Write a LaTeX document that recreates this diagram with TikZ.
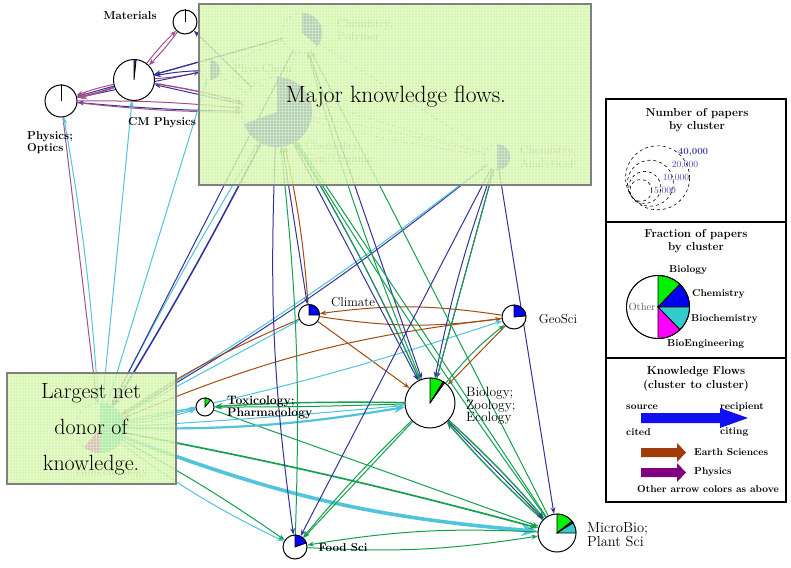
\documentclass[tikz,border=0pt]{standalone}
\usepackage{fontspec}
\usetikzlibrary{arrows.meta,patterns}

\definecolor{navyE}{RGB}{51,51,153}
\definecolor{cyanE}{RGB}{80,196,220}
\definecolor{greenE}{RGB}{20,160,80}
\definecolor{brownE}{RGB}{165,75,15}
\definecolor{purpE}{RGB}{165,80,140}
\definecolor{boxgreen}{RGB}{206,244,156}
\definecolor{pieG}{RGB}{0,240,0}
\definecolor{pieB}{RGB}{0,0,245}
\definecolor{pieC}{RGB}{51,204,204}
\definecolor{pieM}{RGB}{255,0,255}
\definecolor{numblue}{RGB}{70,70,170}
\definecolor{legBlue}{RGB}{16,16,240}
\definecolor{legBrown}{RGB}{160,60,10}
\definecolor{legPurple}{RGB}{128,0,128}

\pgfdeclarelayer{hid}
\pgfdeclarelayer{edg}
\pgfdeclarelayer{box}
\pgfsetlayers{hid,edg,box,main}

% wedge of a pie: node, radius, start angle, end angle, colour
\newcommand\pieslice[5]{%
  \filldraw[fill=#5,draw=black,line width=0.8pt] (#1.center) -- ++(#3:#2)
    arc[start angle=#3,end angle=#4,radius=#2] -- cycle;}
\newcommand\hidslice[5]{%
  \fill[#5] (#1.center) -- ++(#3:#2)
    arc[start angle=#3,end angle=#4,radius=#2] -- cycle;}

\begin{document}
\begin{tikzpicture}[x=1pt,y=1pt,>={Stealth[scale=0.85]},
  vnode/.style={circle,draw=black,fill=white,line width=1pt,inner sep=0pt},
  hnode/.style={circle,draw=gray,dashed,line width=0.6pt,inner sep=0pt},
  nv/.style={->,draw=navyE,line width=1pt},
  cy/.style={->,draw=cyanE,line width=1pt},
  gr/.style={->,draw=greenE,line width=1pt},
  br/.style={->,draw=brownE,line width=1pt},
  pu/.style={->,draw=purpE,line width=1pt},
  lab/.style={font=\fontsize{11.5}{12}\selectfont\bfseries,inner sep=0pt},
  labr/.style={font=\fontsize{13}{12.5}\selectfont,inner sep=0pt},
  faded/.style={font=\fontsize{12}{13}\selectfont,text=gray,inner sep=0pt,align=left},
  legt/.style={font=\fontsize{11.5}{13.5}\selectfont\bfseries,align=center,inner sep=0pt},
  legl/.style={font=\fontsize{10}{11}\selectfont\bfseries,inner sep=0pt},
  num/.style={font=\fontsize{9.5}{10}\selectfont,text=numblue,inner sep=0pt},
  bigtxt/.style={inner sep=0pt,align=center}]

\useasboundingbox (0,0) rectangle (791,-567);

% ---------- clusters lying under the highlighted panels ----------
\begin{pgfonlayer}{hid}
  \fill[white] (0,0) rectangle (791,-567);
  \node[hnode,minimum size=40pt] (poly)  at (302,-33)  {};
  \node[hnode,minimum size=20pt] (pchem) at (210,-70)  {};
  \node[hnode,minimum size=70pt] (gen)   at (277,-112) {};
  \node[hnode,minimum size=26pt] (anal)  at (497,-157) {};
  \node[hnode,minimum size=50pt] (biot)  at (100,-428) {};
  \hidslice{poly}{20}{90}{-40}{blue!70}
  \hidslice{pchem}{10}{90}{-90}{blue!70}
  \hidslice{gen}{35}{90}{-160}{blue!70}
  \hidslice{anal}{13}{90}{-90}{blue!70}
  \hidslice{biot}{25}{90}{-90}{pieC}
  \hidslice{biot}{25}{-90}{-130}{pieM}
  \node[faded,anchor=west] at (337,-31) {Chemistry,\\Polymer};
  \node[faded,anchor=west] at (233,-70) {Phys Chem};
  \node[faded,anchor=west] at (305,-153) {Chemistry,\\Gen/Organic};
  \node[faded,anchor=west] at (520,-158) {Chemistry,\\Analytical};
  \node[faded] at (112,-473) {Biotechnology};
  \draw[gray,dashed,line width=0.5pt] (pchem) -- (poly);
  \draw[gray,dashed,line width=0.5pt] (pchem) -- (gen);
  \draw[gray,dashed,line width=0.5pt] (gen) -- (poly);
  \draw[gray,dashed,line width=0.5pt] (poly) -- (anal);
  \draw[gray,dashed,line width=0.5pt] (gen) to[bend left=3] (anal);
  \draw[gray,dashed,line width=0.5pt] (gen) to[bend right=3] (anal);
  \draw[gray,dashed,line width=0.5pt] (pchem) -- (anal);
\end{pgfonlayer}

% ---------- visible clusters ----------
\node[vnode,minimum size=24pt] (mat)   at (185,-22)  {};
\node[vnode,minimum size=41pt] (cmp)   at (134,-80)  {};
\node[vnode,minimum size=32pt] (opt)   at (61,-101)  {};
\node[vnode,minimum size=21pt] (clim)  at (309,-315) {};
\node[vnode,minimum size=24pt] (geo)   at (514,-317) {};
\node[vnode,minimum size=50pt] (bio)   at (430,-403) {};
\node[vnode,minimum size=18pt] (tox)   at (205,-407) {};
\node[vnode,minimum size=24pt] (food)  at (295,-547) {};
\node[vnode,minimum size=38pt] (micro) at (557,-533) {};

\draw[line width=1pt] (mat.center) -- (mat.north);
\draw[line width=1pt] (opt.center) -- (opt.north);
\pieslice{cmp}{20.5}{90}{84}{navyE}
\pieslice{clim}{10.5}{90}{0}{pieB}
\pieslice{geo}{12}{90}{5}{pieB}
\pieslice{bio}{25}{90}{58}{pieG}
\pieslice{bio}{25}{58}{54}{purple}
\pieslice{tox}{9}{90}{50}{pieG}
\pieslice{food}{12}{90}{20}{pieB}
\pieslice{micro}{19}{90}{38}{pieG}
\pieslice{micro}{19}{38}{32}{pieB}
\pieslice{micro}{19}{32}{0}{pieC}

% ---------- knowledge flows ----------
\begin{pgfonlayer}{edg}
  % physics group
  \draw[nv] (gen) -- (mat);
  \draw[nv] (poly) -- (cmp);
  \draw[nv] (pchem) to[bend right=4] (cmp);
  \draw[pu] (cmp) to[bend right=4] (pchem);
  \draw[nv] (gen) -- (cmp);
  \draw[pu,line width=1.4pt] (cmp) to[bend left=3] (gen);
  \draw[nv] (poly) -- (opt);
  \draw[nv] (pchem) -- (opt);
  \draw[nv] (gen) to[bend left=2] (opt);
  \draw[pu] (opt) to[bend left=3] (gen);
  \draw[pu] (opt) to[bend right=3] (gen);
  \draw[pu] (cmp) to[bend left=4] (mat);
  \draw[pu] (mat) to[bend left=4] (cmp);
  \draw[pu,line width=1.9pt] (cmp) to[bend left=4] (opt);
  \draw[pu] (cmp) to[bend right=4] (opt);
  \draw[pu] (opt) -- (biot);
  \draw[cy] (biot) to[bend right=3] (opt);
  \draw[cy] (biot) -- (cmp);
  \draw[cy] (biot) -- (pchem);
  % chemistry <-> biotechnology
  \draw[cy] (biot) to[bend left=2] (gen);
  \draw[cy] (biot) to[bend right=2] (gen);
  \draw[nv,line width=1.5pt] (gen) to[bend left=2] (biot);
  \draw[nv] (poly) -- (biot);
  \draw[nv] (anal) to[bend left=4] (biot);
  \draw[cy] (biot) to[bend right=3] (anal);
  % earth sciences
  \draw[br] (clim) to[bend right=4] (gen);
  \draw[nv] (gen) -- (clim);
  \draw[br] (geo) to[bend right=8] (clim);
  \draw[br] (clim) to[bend right=8] (geo);
  \draw[br] (clim) -- (bio);
  \draw[br] (geo) -- (bio);
  \draw[gr] (bio) to[bend left=6] (geo);
  \draw[br] (clim) to[bend right=5] (biot);
  \draw[br] (geo) to[bend right=8] (biot);
  \draw[cy] (biot) to[bend right=3] (geo);
  \draw[cy] (biot) -- (clim);
  % toxicology
  \draw[cy] (biot) to[bend left=4] (tox);
  \draw[cy] (biot) -- (tox);
  \draw[cy] (biot) to[bend right=4] (tox);
  \draw[gr,line width=1.4pt] (bio) to[bend right=2] (tox);
  \draw[gr] (bio) to[bend left=1] (tox);
  \draw[gr] (tox) -- (micro);
  % biology
  \draw[cy,line width=2.2pt] (biot) to[bend right=5] (bio);
  \draw[cy] (biot) to[bend right=1] (bio);
  \draw[nv] (gen) -- (bio);
  \draw[nv] (gen) to[bend left=3] (bio);
  \draw[nv] (poly) -- (bio);
  \draw[nv] (anal) -- (bio);
  \draw[nv] (anal) to[bend right=4] (bio);
  \draw[gr] (bio) -- (anal);
  \draw[gr] (bio) to[bend left=3] (poly);
  \draw[gr] (bio) to[bend right=3] (gen);
  % microbiology
  \draw[gr] (micro) -- (gen);
  \draw[gr] (micro) to[bend left=2] (gen);
  \draw[gr] (micro) -- (poly);
  \draw[nv] (anal) -- (micro);
  \draw[gr,line width=1.4pt] (bio) to[bend left=3] (micro);
  \draw[gr,line width=1.4pt] (micro) to[bend left=3] (bio);
  \draw[nv] (bio) -- (micro);
  \draw[cy,line width=3.6pt] (biot) to[bend right=8] (micro);
  \draw[gr,line width=1.7pt] (biot) to[bend left=2] (micro);
  \draw[gr] (micro) to[bend right=6] (food);
  \draw[gr] (food) to[bend right=6] (micro);
  % food science
  \draw[nv] (gen) to[bend right=5] (food);
  \draw[gr] (food) to[bend right=4] (gen);
  \draw[nv] (anal) -- (food);
  \draw[gr] (bio) -- (food);
  \draw[gr] (bio) to[bend right=3] (food);
  \draw[cy] (biot) to[bend right=5] (food);
  \draw[gr] (biot) to[bend left=3] (food);
\end{pgfonlayer}

% ---------- highlighted panels ----------
\begin{pgfonlayer}{box}
  \fill[boxgreen,opacity=0.8] (199,-4) rectangle (591,-185);
  \fill[pattern=grid,pattern color=white,opacity=0.3] (199,-4) rectangle (591,-185);
  \draw[gray,line width=1.2pt] (199,-4) rectangle (591,-185);
  \fill[boxgreen,opacity=0.8] (7,-373) rectangle (176,-484);
  \fill[pattern=grid,pattern color=white,opacity=0.3] (7,-373) rectangle (176,-484);
  \draw[gray,line width=1.2pt] (7,-373) rectangle (176,-484);
\end{pgfonlayer}
\node[bigtxt,font=\fontsize{23.5}{28}\selectfont] (major) at (396,-97) {Major knowledge flows.};
\node[bigtxt,font=\fontsize{22}{36}\selectfont] (donor) at (91,-429) {Largest net\\donor of\\knowledge.};

% ---------- cluster labels ----------
\node[lab] (lmat) at (130,-16) {Materials};
\node[lab] (lcmp) at (162,-123) {CM Physics};
\node[lab,anchor=west,align=left] (lopt) at (27,-143) {Physics;\\Optics};
\node[labr] (lclim) at (353,-302) {Climate};
\node[labr] (lgeo) at (558,-319) {GeoSci};
\node[labr,anchor=west,align=left,font=\fontsize{13.5}{12.5}\selectfont] (lbio) at (466,-406) {Biology;\\Zoology;\\Ecology};
\node[lab,anchor=west,align=left,font=\fontsize{12.2}{11.5}\selectfont\bfseries] (ltox) at (227,-407.5) {Toxicology;\\Pharmacology};
\node[lab] (lfood) at (343,-548) {Food Sci};
\node[labr,anchor=west,align=left,font=\fontsize{14.5}{12}\selectfont] (lmicro) at (587,-535) {MicroBio;\\Plant Sci};

% ---------- legend ----------
\draw[line width=1.5pt] (606,-99) rectangle (786,-502);
\draw[line width=1.5pt] (606,-222) -- (786,-222);
\draw[line width=1.5pt] (606,-358) -- (786,-358);

\node[legt] (t1) at (697,-120) {Number of papers\\by cluster};
\foreach \r in {32,23,16,11}
  \draw[dashed,line width=0.6pt] ({632+0.8*\r},{-197+0.6*\r}) circle[radius=\r];
\node[num,font=\fontsize{9.5}{10}\selectfont\bfseries] (n40) at (693,-152) {40,000};
\node[num] (n20) at (685,-165) {20,000};
\node[num] (n10) at (676,-178) {10,000};
\node[num] (n5) at (665,-191) {5,000};

\node[legt] (t2) at (696,-241) {Fraction of papers\\by cluster};
\coordinate (pc) at (658,-307);
\draw[line width=0.8pt,fill=white] (pc) circle[radius=31.5];
\pieslice{pc}{31.5}{90}{46}{pieG}
\pieslice{pc}{31.5}{46}{0}{pieB}
\pieslice{pc}{31.5}{0}{-46}{pieC}
\pieslice{pc}{31.5}{-46}{-90}{pieM}
\draw[line width=0.8pt] (pc) circle[radius=31.5];
\node[font=\fontsize{10.5}{11}\selectfont,text=gray!70!black,inner sep=0pt] (oth) at (642,-307) {Other};
\node[legl,anchor=west] (lb1) at (669,-270) {Biology};
\node[legl,anchor=west] (lb2) at (692,-294) {Chemistry};
\node[legl,anchor=west] (lb3) at (691,-319) {Biochemistry};
\node[legl,anchor=west] (lb4) at (667,-344) {BioEngineering};

\node[legt] (t3) at (696,-379) {Knowledge Flows\\(cluster to cluster)};
\node[legl,anchor=west] (src) at (626,-407) {source};
\node[legl,anchor=west] (rcp) at (720,-407) {recipient};
\node[legl,anchor=west] (ctd) at (626,-432) {cited};
\node[legl,anchor=west] (ctg) at (720,-432) {citing};
\fill[legBlue] (641,-413) -- (720,-413) -- (720,-408) -- (748,-418) -- (720,-428) -- (720,-423) -- (641,-423) -- cycle;
\fill[legBrown] (641,-448) -- (677,-448) -- (677,-443) -- (686,-452.5) -- (677,-462) -- (677,-457) -- (641,-457) -- cycle;
\fill[legPurple] (641,-468) -- (677,-468) -- (677,-463) -- (686,-472.5) -- (677,-482) -- (677,-477) -- (641,-477) -- cycle;
\node[legl,anchor=west] (les) at (694,-452) {Earth Sciences};
\node[legl,anchor=west] (lph) at (694,-472) {Physics};
\node[legl] (loth) at (708,-489) {Other arrow colors as above};
\end{tikzpicture}
\end{document}
